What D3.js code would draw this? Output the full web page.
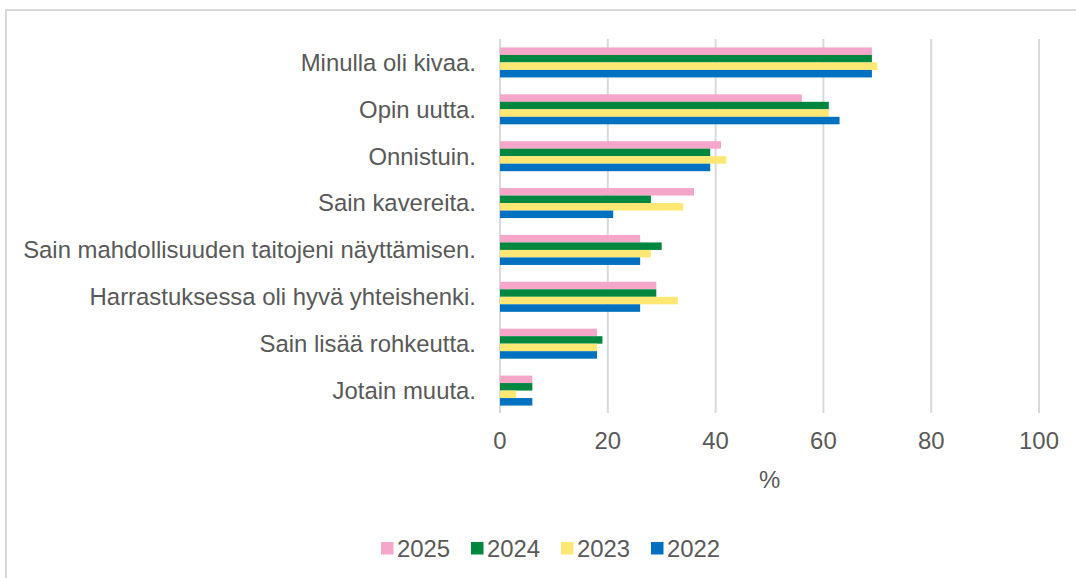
<!DOCTYPE html>
<html>
<head>
<meta charset="utf-8">
<script src="https://cdn.jsdelivr.net/npm/d3@7"></script>
<style>
  body { margin: 0; background: #fff; }
  svg { display: block; font-family: "Liberation Sans", Arial, sans-serif; }
</style>
</head>
<body>
<svg id="chart" width="1076" height="578"></svg>
<script>
// data
var categories = [
    "Minulla oli kivaa.",
    "Opin uutta.",
    "Onnistuin.",
    "Sain kavereita.",
    "Sain mahdollisuuden taitojeni näyttämisen.",
    "Harrastuksessa oli hyvä yhteishenki.",
    "Sain lisää rohkeutta.",
    "Jotain muuta."
]
var years = ["2025", "2024", "2023", "2022"]
var values2025 = [69, 56, 41, 36, 26, 29, 18, 6]
var values2024 = [69, 61, 39, 28, 30, 29, 19, 6]
var values2023 = [70, 61, 42, 34, 28, 33, 18, 3]
var values2022 = [69, 63, 39, 21, 26, 26, 18, 6]
var xTicks = [0, 20, 40, 60, 80, 100]
var colors = ["#F5A6C9", "#00873F", "#FFE774", "#0070C0"]

var series = [values2025, values2024, values2023, values2022]

var svg = d3.select("#chart")
var textColor = "#595959"
var gridColor = "#d9d9d9"
var fontSize = 23.9

// outer frame (runs off the right/bottom edge)
svg.append("rect")
    .attr("x", 6).attr("y", 10)
    .attr("width", 1100).attr("height", 600)
    .attr("fill", "none")
    .attr("stroke", gridColor)
    .attr("stroke-width", 2)

var x = d3.scaleLinear().domain([0, 100]).range([500, 1039])
var y0 = d3.scaleBand().domain(categories).range([39, 414])
var y1 = d3.scaleBand().domain(years).range([0, y0.bandwidth()]).paddingOuter(1.125)

// gridlines
svg.append("g")
    .selectAll("line")
    .data(xTicks)
    .enter()
        .append("line")
        .attr("x1", function(d){ return x(d) })
        .attr("x2", function(d){ return x(d) })
        .attr("y1", 39)
        .attr("y2", 413)
        .attr("stroke", gridColor)
        .attr("stroke-width", 2)

// bars
var groups = svg.append("g")
    .selectAll("g")
    .data(categories)
    .enter()
        .append("g")
        .attr("transform", function(d){ return "translate(0," + y0(d) + ")" })

groups.selectAll("rect")
    .data(function(d, i){
        return years.map(function(yr, j){ return {year: yr, value: series[j][i], color: colors[j]} })
    })
    .enter()
        .append("rect")
        .attr("x", x(0))
        .attr("y", function(d){ return y1(d.year) })
        .attr("width", function(d){ return x(d.value) - x(0) })
        .attr("height", y1.bandwidth())
        .attr("fill", function(d){ return d.color })

// category labels
svg.append("g")
    .selectAll("text")
    .data(categories)
    .enter()
        .append("text")
        .attr("x", 476)
        .attr("y", function(d){ return y0(d) + y0.bandwidth() / 2 })
        .attr("dy", "0.35em")
        .attr("text-anchor", "end")
        .attr("font-size", fontSize)
        .attr("fill", textColor)
        .text(function(d){ return d })

// x tick labels
svg.append("g")
    .selectAll("text")
    .data(xTicks)
    .enter()
        .append("text")
        .attr("x", function(d){ return x(d) })
        .attr("y", 441)
        .attr("dy", "0.35em")
        .attr("text-anchor", "middle")
        .attr("font-size", fontSize)
        .attr("fill", textColor)
        .text(function(d){ return d })

// axis title
svg.append("text")
    .attr("x", (x(0) + x(100)) / 2)
    .attr("y", 480)
    .attr("dy", "0.35em")
    .attr("text-anchor", "middle")
    .attr("font-size", fontSize)
    .attr("fill", textColor)
    .text("%")

// legend
var legend = svg.append("g")
    .selectAll("g")
    .data(years)
    .enter()
        .append("g")
        .attr("transform", function(d, i){ return "translate(" + (381 + i * 90) + ",542)" })

legend.append("rect")
    .attr("width", 12.5)
    .attr("height", 12.5)
    .attr("fill", function(d, i){ return colors[i] })

legend.append("text")
    .attr("x", 16)
    .attr("y", 6.5)
    .attr("dy", "0.35em")
    .attr("font-size", fontSize)
    .attr("fill", textColor)
    .text(function(d){ return d })
</script>
</body>
</html>
